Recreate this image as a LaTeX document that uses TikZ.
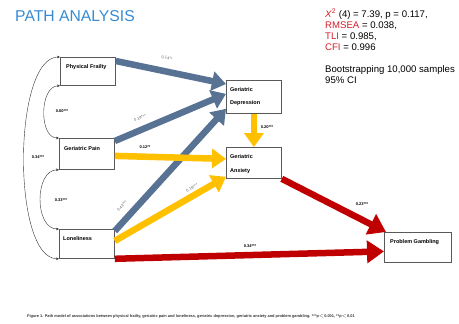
\documentclass[tikz,border=0pt]{standalone}
\usepackage{fontspec}
\setmainfont{Liberation Sans}
\usetikzlibrary{arrows.meta,calc}
\definecolor{pblue}{RGB}{88,114,148}
\definecolor{pyellow}{RGB}{255,192,0}
\definecolor{pred}{RGB}{192,0,0}
\definecolor{ttlblue}{RGB}{55,139,210}
\definecolor{statred}{RGB}{210,30,40}
\tikzset{
  box/.style={draw=black!65, line width=0.8pt, fill=white, inner sep=0pt, anchor=north west},
  boxtext/.style={font=\fontsize{5.5}{6}\selectfont\bfseries, anchor=west, inner sep=0pt},
  fat/.style={line width=6.5pt},
  bluearr/.style={fat, draw=pblue, -{Triangle[length=14pt,width=19pt]}, color=pblue},
  yelarr/.style={fat, draw=pyellow, -{Triangle[length=14pt,width=19pt]}, color=pyellow},
  redarr/.style={fat, draw=pred, -{Triangle[length=17pt,width=22pt]}, color=pred},
  corr/.style={draw=black!80, line width=0.4pt, {Stealth[length=3pt,width=2.6pt]}-{Stealth[length=3pt,width=2.6pt]}},
  glab/.style={font=\fontsize{4}{5}\selectfont, text=black!60, inner sep=0pt},
  blab/.style={font=\fontsize{4}{5}\selectfont\bfseries, text=black, inner sep=0pt}
}
\begin{document}
\begin{tikzpicture}[x=1pt,y=-1pt]
\useasboundingbox (0,0) rectangle (459,324);

% title and stats
\node[anchor=base west, inner sep=0pt, text=ttlblue, font=\fontsize{15.7}{18}\selectfont] (title) at (15,21) {PATH ANALYSIS};
\node[anchor=north west, inner sep=0pt, align=left, font=\fontsize{9.6}{11}\selectfont] (stats) at (325,9)
 {\textcolor{statred}{\textit{X}\textsuperscript{2}} (4) = 7.39, p = 0.117,\\
  \textcolor{statred}{RMSEA} = 0.038,\\
  \textcolor{statred}{TLI} = 0.985,\\
  \textcolor{statred}{CFI} = 0.996\\[11pt]
  Bootstrapping 10,000 samples\\
  95\% CI};

% boxes
\node[box, minimum width=55pt, minimum height=28pt] (pf) at (60,57) {};
\node[box, minimum width=55pt, minimum height=31pt] (pain) at (59,138) {};
\node[box, minimum width=55pt, minimum height=29pt] (lone) at (59,229) {};
\node[box, minimum width=55pt, minimum height=33pt] (dep) at (226,80) {};
\node[box, minimum width=55pt, minimum height=31pt] (anx) at (226,147) {};
\node[box, minimum width=67pt, minimum height=30pt] (pg) at (384,232) {};

\node[boxtext] (pft) at ($(pf.north west)+(6,10)$) {Physical Frailty};
\node[boxtext] (paint) at ($(pain.north west)+(5,11)$) {Geriatric Pain};
\node[boxtext] (lonet) at ($(lone.north west)+(4,10)$) {Loneliness};
\node[boxtext] (dept1) at ($(dep.north west)+(4,10)$) {Geriatric};
\node[boxtext] (dept2) at ($(dep.north west)+(4,23)$) {Depression};
\node[boxtext] (anxt1) at ($(anx.north west)+(4,10)$) {Geriatric};
\node[boxtext] (anxt2) at ($(anx.north west)+(4,24)$) {Anxiety};
\node[boxtext] (pgt) at ($(pg.north west)+(6,10)$) {Problem Gambling};

% thick arrows
\draw[bluearr] ($(pf.north east)+(0,4)$) -- ($(dep.north west)+(0,4)$);
\draw[bluearr] ($(pain.north east)+(0,3)$) -- ($(dep.west)+(0,-3)$);
\draw[bluearr] ($(lone.north east)+(0,2)$) -- ($(dep.south west)+(0,-5)$);
\draw[yelarr] ($(pain.east)+(0,2)$) -- ($(anx.west)+(0,-4)$);
\draw[yelarr] ($(lone.east)+(0,-3)$) -- ($(anx.south west)+(0,-2)$);
\draw[yelarr] (dep.south) -- (anx.north);
\draw[redarr] (anx.south east) -- ($(pg.north west)+(2,0)$);
\draw[redarr] (lone.south east) -- ($(pg.west)+(0,4)$);

% correlations
\draw[corr] (pf.south west) to[out=180,in=180,looseness=1] (pain.north west);
\draw[corr] (pf.north west) to[out=180,in=180,looseness=0.6] (lone.south west);
\draw[corr] (pain.south west) to[out=180,in=180,looseness=1.07] (lone.north west);

% path labels
\node[glab, rotate=-11] (l1) at (167,58) {0.14**};
\node[glab, rotate=22] (l2) at (140,118) {0.19***};
\node[blab] (l3) at (145,147) {0.12**};
\node[glab, rotate=49] (l4) at (122,206) {0.43***};
\node[glab, rotate=29] (l5) at (192,188) {0.18***};
\node[blab] (l6) at (267,127) {0.20***};
\node[blab] (l7) at (362,204) {0.23***};
\node[blab] (l8) at (250,246) {0.34***};
\node[blab] (l9) at (62,111) {0.60***};
\node[blab] (l10) at (61,200) {0.33***};
\node[blab] (l11) at (38,157) {0.34***};

% caption
\node[anchor=west, inner sep=0pt, font=\fontsize{3.9}{4}\selectfont\bfseries, text=black!80] (cap) at (27,316)
 {Figure 1. Path model of associations between physical frailty, geriatric pain and loneliness, geriatric depression, geriatric anxiety and problem gambling. ***p$<$0.001, **p$<$0.01};
\end{tikzpicture}
\end{document}
